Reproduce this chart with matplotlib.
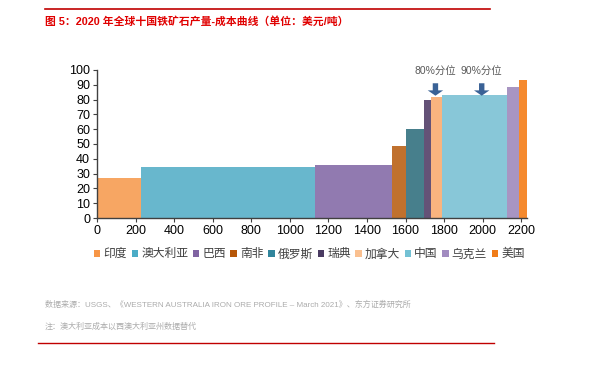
import matplotlib.pyplot as plt
from matplotlib.patches import Patch, FancyArrow
from matplotlib.lines import Line2D

plt.rcParams['font.family'] = ['Liberation Sans', 'Noto Sans CJK SC', 'DejaVu Sans']

countries = ['印度', '澳大利亚', '巴西', '南非', '俄罗斯', '瑞典', '加拿大', '中国', '乌克兰', '美国']
output = [230, 902, 397, 71, 95, 35, 57, 340, 61, 40]   # cumulative width (Mt)
cost = [27, 34.5, 36, 48.5, 60, 80, 82, 82.8, 88.5, 93.3]
bar_colors = ['#F7A663', '#68B7CD', '#917AB0', '#C0712E', '#477F8C',
              '#645277', '#F9B47F', '#88C7D8', '#A895C2', '#F58A2F']
legend_colors = ['#F79646', '#4BACC6', '#8064A2', '#B65708', '#31859C',
                 '#4A3B62', '#FAC090', '#73C1D4', '#A18BC0', '#F07C18']
pct_labels = ['80%分位', '90%分位']
pct_x = [1755, 1995]

fig = plt.figure(figsize=(6.03, 3.73), dpi=100)
ax = fig.add_axes([0.161, 0.4155, 0.713, 0.397])

left = 0
for w, h, c in zip(output, cost, bar_colors):
    ax.bar(left, h, width=w, align='edge', color=c, edgecolor='none')
    left += w

for lab, x in zip(pct_labels, pct_x):
    ax.add_patch(FancyArrow(x, 91, 0, -8.4, width=28, head_width=80, head_length=3.6,
                            length_includes_head=True, color='#3A6296', lw=0,
                            clip_on=False, zorder=5))
    ax.text(x, 99.5, lab, ha='center', va='center', fontsize=7.5, color='#595959')

ax.set_xlim(0, 2230)
ax.set_ylim(0, 100)
ax.set_xticks(range(0, 2201, 200))
ax.set_yticks(range(0, 101, 10))
for s in ['top', 'right']:
    ax.spines[s].set_visible(False)
for s in ['left', 'bottom']:
    ax.spines[s].set_color('#404040')
    ax.spines[s].set_linewidth(1.0)
ax.tick_params(labelsize=9, length=3, color='#404040', pad=2)

handles = [Patch(facecolor=c, edgecolor='none') for c in legend_colors]
fig.legend(handles, countries, loc='center', bbox_to_anchor=(0.513, 0.318), ncol=10,
           frameon=False, fontsize=8.5, handlelength=0.55, handleheight=0.55,
           handletextpad=0.25, columnspacing=0.4, labelcolor='#404040')

fig.add_artist(Line2D([45 / 603, 490 / 603], [1 - 9 / 373, 1 - 9 / 373],
                      color='#C00000', lw=1.2))
fig.text(45 / 603, 1 - 21 / 373, '图 5：2020 年全球十国铁矿石产量-成本曲线（单位：美元/吨）',
         fontsize=7.8, color='#E00000', fontweight='bold', va='center', ha='left')
fig.text(45 / 603, 1 - 305 / 373,
         '数据来源：USGS、《WESTERN AUSTRALIA IRON ORE PROFILE – March 2021》、东方证券研究所',
         fontsize=5.8, color='#ABABAB', va='center', ha='left')
fig.text(45 / 603, 1 - 327 / 373, '注：澳大利亚成本以西澳大利亚州数据替代',
         fontsize=5.8, color='#ABABAB', va='center', ha='left')
fig.add_artist(Line2D([38 / 603, 494 / 603], [1 - 343 / 373, 1 - 343 / 373],
                      color='#C00000', lw=1.0))

fig.savefig('out.png', dpi=100)
